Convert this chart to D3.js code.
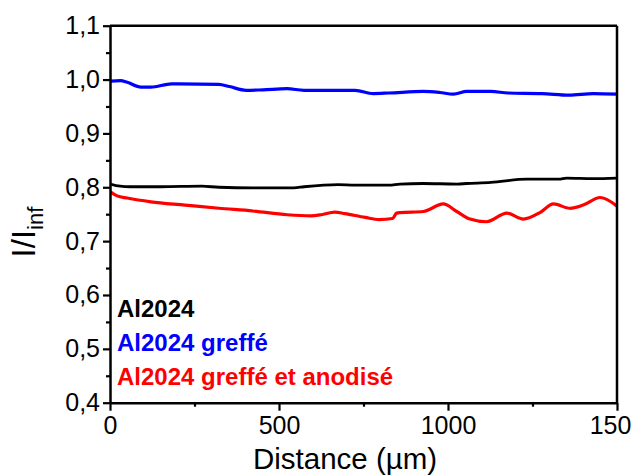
<!DOCTYPE html>
<html><head><meta charset="utf-8">
<script src="https://cdn.jsdelivr.net/npm/d3@7"></script>
<style>
body{margin:0;background:#fff}
svg{display:block}
text{font-family:"Liberation Sans",Arial,sans-serif}
</style>
</head><body>
<svg id="chart" width="632" height="475"></svg>
<script>
// ---- data ----
const blackX = [0, 30, 60, 150, 272, 322, 423, 544, 574, 675, 725, 825, 858, 926, 1027, 1055, 1127, 1233, 1328, 1351, 1429, 1500];
const blackY = [0.806, 0.802, 0.801, 0.801, 0.802, 0.800, 0.799, 0.799, 0.801, 0.805, 0.804, 0.804, 0.806, 0.807, 0.806, 0.807, 0.809, 0.815, 0.815, 0.817, 0.816, 0.817];

const blueX = [0, 31, 51, 91, 121, 182, 202, 322, 353, 403, 453, 524, 574, 725, 779, 825, 927, 976, 1016, 1056, 1127, 1178, 1278, 1358, 1430, 1500];
const blueY = [0.997, 0.998, 0.995, 0.986, 0.986, 0.992, 0.992, 0.991, 0.987, 0.980, 0.981, 0.983, 0.980, 0.980, 0.974, 0.975, 0.978, 0.976, 0.973, 0.978, 0.978, 0.975, 0.974, 0.971, 0.974, 0.973];

const redX = [0, 21, 51, 121, 222, 322, 423, 524, 595, 625, 665, 695, 755, 796, 836, 848, 858, 927, 986, 1026, 1065, 1114, 1174, 1223, 1272, 1312, 1361, 1400, 1450, 1500];
const redY = [0.792, 0.784, 0.780, 0.773, 0.767, 0.761, 0.756, 0.749, 0.747, 0.749, 0.754, 0.751, 0.744, 0.740, 0.742, 0.752, 0.753, 0.755, 0.769, 0.755, 0.741, 0.736, 0.752, 0.741, 0.753, 0.769, 0.761, 0.767, 0.781, 0.765];

const seriesNames = ["Al2024", "Al2024 greffé", "Al2024 greffé et anodisé"];
const seriesColors = ["#000000", "#0000ff", "#ff0000"];

const xTickValues = [0, 500, 1000, 1500];
const xTickLabels = ["0", "500", "1000", "1500"];
const xMinorValues = [250, 750, 1250];
const yTickValues = [0.4, 0.5, 0.6, 0.7, 0.8, 0.9, 1.0, 1.1];
const yTickLabels = ["0,4", "0,5", "0,6", "0,7", "0,8", "0,9", "1,0", "1,1"];
const yMinorValues = [0.45, 0.55, 0.65, 0.75, 0.85, 0.95, 1.05];
const xTitle = "Distance (µm)";

// ---- layout ----
const svg = d3.select("#chart");
const L = 110, R = 617, T = 25.7, B = 402.7;
const x = d3.scaleLinear().domain([0, 1500]).range([L, R]);
const y = d3.scaleLinear().domain([0.4, 1.1]).range([B, T]);

const series = [
  {name: seriesNames[0], color: seriesColors[0], xs: blackX, ys: blackY, w: 2.8},
  {name: seriesNames[1], color: seriesColors[1], xs: blueX, ys: blueY, w: 3.2},
  {name: seriesNames[2], color: seriesColors[2], xs: redX, ys: redY, w: 3.2}
];

const line = d3.line().x(d => x(d[0])).y(d => y(d[1])).curve(d3.curveMonotoneX);

svg.append("defs").append("clipPath").attr("id", "clip")
  .append("rect").attr("x", L).attr("y", T).attr("width", R - L).attr("height", B - T);

const g = svg.append("g").attr("clip-path", "url(#clip)");
series.forEach(s => {
  g.append("path")
    .datum(s.xs.map((v, i) => [v, s.ys[i]]))
    .attr("d", line)
    .attr("fill", "none")
    .attr("stroke", s.color)
    .attr("stroke-width", s.w)
    .attr("stroke-linejoin", "round")
    .attr("stroke-linecap", "round");
});

// frame top/right
svg.append("line").attr("x1", L).attr("x2", R).attr("y1", T).attr("y2", T).attr("stroke", "#000").attr("stroke-width", 2.5);
svg.append("line").attr("x1", R).attr("x2", R).attr("y1", T).attr("y2", B).attr("stroke", "#000").attr("stroke-width", 2.5);

// axes
function styleAxis(sel) {
  sel.select(".domain").attr("stroke-width", 2.5).attr("stroke", "#000");
  sel.selectAll(".tick line").attr("stroke-width", 2.2).attr("stroke", "#000");
  sel.selectAll(".tick text").attr("font-size", 25).attr("fill", "#000")
    .attr("font-family", '"Liberation Sans", Arial, sans-serif');
}

const yMinor = svg.append("g").attr("transform", `translate(${L},0)`)
  .call(d3.axisLeft(y).tickValues(yMinorValues).tickSize(4).tickSizeOuter(0).tickFormat(""));
yMinor.select(".domain").remove();
yMinor.selectAll(".tick line").attr("stroke-width", 2.2);

const xMinor = svg.append("g").attr("transform", `translate(0,${B})`)
  .call(d3.axisBottom(x).tickValues(xMinorValues).tickSize(4).tickSizeOuter(0).tickFormat(""));
xMinor.select(".domain").remove();
xMinor.selectAll(".tick line").attr("stroke-width", 2.2);

const yAxis = svg.append("g").attr("transform", `translate(${L},0)`)
  .call(d3.axisLeft(y).tickValues(yTickValues).tickSize(7).tickSizeOuter(0).tickPadding(3)
    .tickFormat((d, i) => yTickLabels[i]));
styleAxis(yAxis);

const xAxis = svg.append("g").attr("transform", `translate(0,${B})`)
  .call(d3.axisBottom(x).tickValues(xTickValues).tickSize(8).tickSizeOuter(0).tickPadding(6)
    .tickFormat((d, i) => xTickLabels[i]));
styleAxis(xAxis);

// titles
svg.append("text").attr("x", 253).attr("y", 469).attr("font-size", 29.5).attr("fill", "#000").text(xTitle);

const yt = svg.append("text").attr("transform", "translate(35,232) rotate(-90)")
  .attr("text-anchor", "middle").attr("font-size", 33).attr("fill", "#000");
yt.append("tspan").text("I/I");
yt.append("tspan").attr("font-size", 22).attr("dy", 8).text("inf");

// legend text
series.forEach((s, i) => {
  svg.append("text").attr("x", 117).attr("y", 317 + i * 34)
    .attr("font-size", 24).attr("font-weight", "bold").attr("fill", s.color).text(s.name);
});
</script>
</body></html>
